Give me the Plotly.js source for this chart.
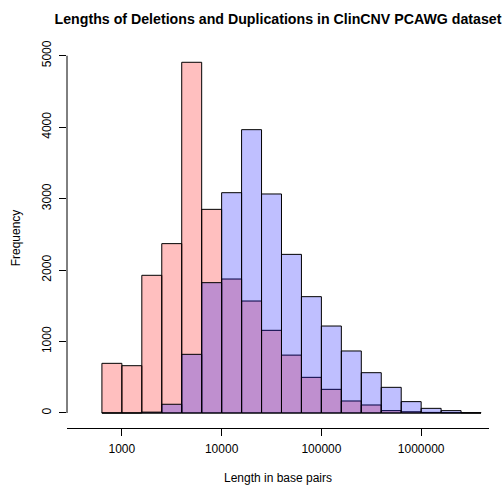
<!DOCTYPE html>
<html>
<head>
<meta charset="utf-8">
<script src="https://cdn.plot.ly/plotly-3.0.1.min.js"></script>
<style>
  html, body { margin: 0; padding: 0; background: #fff; }
  #chart { width: 503px; height: 485px; }
</style>
</head>
<body>
<div id="chart"></div>
<script>
// Histogram bins on log10(length): lower edges of each 0.2-decade bin
const binStarts = [2.8, 3.0, 3.2, 3.4, 3.6, 3.8, 4.0, 4.2, 4.4, 4.6,
                   4.8, 5.0, 5.2, 5.4, 5.6, 5.8, 6.0, 6.2, 6.4];
const binWidth = 0.2;

// Counts per bin
const deletionCounts    = [695, 662, 1927, 2370, 4908, 2850, 1875, 1567, 1157, 810,
                           499, 331, 168, 112, 33, 17, 8, 4, 2];
const duplicationCounts = [0, 0, 12, 122, 821, 1824, 3083, 3965, 3065, 2220,
                           1628, 1217, 868, 564, 359, 159, 65, 33, 3];

// Axis ticks
const xTickExponents = [3, 4, 5, 6];
const xTickLabels = ['1000', '10000', '100000', '1000000'];
const yTickValues = [0, 1000, 2000, 3000, 4000, 5000];

const centers = binStarts.map(b => b + binWidth / 2);
const widths = binStarts.map(() => binWidth);

const FONT = 'Liberation Sans, Arial, Helvetica, sans-serif';

const traces = [
  {
    type: 'bar', name: 'Deletions',
    x: centers, y: deletionCounts, width: widths,
    marker: { color: 'rgba(255,0,0,0.25)', line: { color: '#000', width: 1 } },
    hoverinfo: 'y'
  },
  {
    type: 'bar', name: 'Duplications',
    x: centers, y: duplicationCounts, width: widths,
    marker: { color: 'rgba(0,0,255,0.25)', line: { color: '#000', width: 1 } },
    hoverinfo: 'y'
  }
];

const layout = {
  width: 503, height: 485,
  paper_bgcolor: '#fff', plot_bgcolor: '#fff',
  margin: { l: 67, r: 14, t: 48, b: 57, pad: 0 },
  barmode: 'overlay',
  bargap: 0,
  showlegend: false,
  font: { family: FONT, size: 12, color: '#000' },
  title: {
    text: 'Lengths of Deletions and Duplications in ClinCNV PCAWG dataset',
    font: { family: FONT, size: 14.2, weight: 'bold', color: '#000' },
    x: 0.5, xref: 'paper', xanchor: 'center',
    y: 1 - 19 / 485, yref: 'container', yanchor: 'middle'
  },
  xaxis: {
    range: [2.45, 6.68],
    tickmode: 'array', tickvals: xTickExponents, ticktext: xTickLabels,
    ticks: 'outside', ticklen: 7, tickwidth: 1, tickcolor: '#000',
    ticklabelstandoff: 3,
    showline: true, linecolor: '#000', linewidth: 1,
    showgrid: false, zeroline: false,
    tickfont: { family: FONT, size: 12, color: '#000' },
    title: { text: 'Length in base pairs', font: { family: FONT, size: 12, color: '#000' }, standoff: 22 },
    fixedrange: true
  },
  yaxis: {
    range: [-210, 5108],
    tickmode: 'array', tickvals: yTickValues,
    ticks: 'outside', ticklen: 7, tickwidth: 1, tickcolor: '#000',
    tickangle: -90,
    ticklabelstandoff: 3,
    showline: false, showgrid: false, zeroline: false,
    tickfont: { family: FONT, size: 12, color: '#000' },
    title: { text: 'Frequency', font: { family: FONT, size: 12, color: '#000' }, standoff: 17 },
    fixedrange: true
  },
  shapes: [
    // y axis line spans only the labelled tick range
    { type: 'line', xref: 'paper', yref: 'y', x0: 0, x1: 0, y0: 0, y1: 5000,
      line: { color: '#000', width: 1 } }
  ]
};

Plotly.newPlot('chart', traces, layout, { displayModeBar: false, staticPlot: true });
</script>
</body>
</html>
